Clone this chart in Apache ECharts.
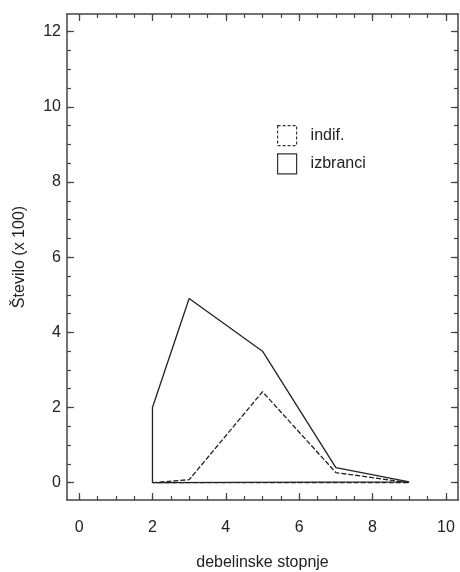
<!DOCTYPE html>
<html>
<head>
<meta charset="utf-8">
<script src="https://cdn.jsdelivr.net/npm/echarts@6/dist/echarts.min.js"></script>
<style>
html,body{margin:0;padding:0;background:#fff;}
#chart{width:460px;height:572px;}
</style>
</head>
<body>
<div id="chart"></div>
<script>
// ---- data ----
const xStops = [2, 3, 5, 7, 9];                 // debelinske stopnje
const indif = [0.0, 0.08, 2.42, 0.27, 0.0];     // Število (x 100)
const izbranci = [2.0, 4.9, 3.5, 0.4, 0.02];
const baseline = 0;
const seriesNames = ['indif.', 'izbranci'];
const xMajorTicks = [0, 2, 4, 6, 8, 10];
const xMinorTicks = [0, 0.5, 1, 1.5, 2, 2.5, 3, 3.5, 4, 4.5, 5, 5.5, 6, 6.5, 7, 7.5, 8, 8.5, 9, 9.5, 10];
const yMajorTicks = [0, 2, 4, 6, 8, 10, 12];
const yMinorTicks = [0, 0.5, 1, 1.5, 2, 2.5, 3, 3.5, 4, 4.5, 5, 5.5, 6, 6.5, 7, 7.5, 8, 8.5, 9, 9.5, 10, 10.5, 11, 11.5, 12];
const xTitle = 'debelinske stopnje';
const yTitle = 'Število (x 100)';

// closed outline polygon: baseline -> values -> baseline
function outline(vals) {
  const pts = [[xStops[0], baseline]];
  xStops.forEach((x, i) => pts.push([x, vals[i]]));
  pts.push([xStops[xStops.length - 1], baseline]);
  pts.push([xStops[0], baseline]);
  return pts;
}

const FONT = '"Liberation Sans", Arial, sans-serif';
const AX = '#444';
const XMIN = -0.33, XMAX = 10.33, YMIN = -0.46, YMAX = 12.47;

function xAx(pos, major, showLine) {
  return {
    type: 'value', position: pos, min: XMIN, max: XMAX,
    axisLine: { show: showLine, onZero: false, lineStyle: { color: AX, width: 1.5 } },
    axisTick: { show: true, inside: true, length: major ? 7 : 4, customValues: major ? xMajorTicks : xMinorTicks, lineStyle: { color: AX, width: 1.2 } },
    axisLabel: (pos === 'bottom' && major) ? { show: true, customValues: xMajorTicks, fontSize: 16, color: '#222', fontFamily: FONT, margin: 20 } : { show: false },
    splitLine: { show: false },
    name: (pos === 'bottom' && major) ? xTitle : '',
    nameLocation: 'middle', nameGap: 55,
    nameTextStyle: { fontSize: 16, color: '#222', fontFamily: FONT }
  };
}
function yAx(pos, major, showLine) {
  return {
    type: 'value', position: pos, min: YMIN, max: YMAX,
    axisLine: { show: showLine, onZero: false, lineStyle: { color: AX, width: 1.5 } },
    axisTick: { show: true, inside: true, length: major ? 7 : 4, customValues: major ? yMajorTicks : yMinorTicks, lineStyle: { color: AX, width: 1.2 } },
    axisLabel: (pos === 'left' && major) ? { show: true, customValues: yMajorTicks, fontSize: 16, color: '#222', fontFamily: FONT, margin: 6 } : { show: false },
    splitLine: { show: false },
    name: (pos === 'left' && major) ? yTitle : '',
    nameLocation: 'middle', nameGap: 39, nameRotate: 90,
    nameTextStyle: { fontSize: 16, color: '#222', fontFamily: FONT }
  };
}

const chart = echarts.init(document.getElementById('chart'), null, { renderer: 'canvas' });
chart.setOption({
  animation: false,
  backgroundColor: '#fff',
  grid: { left: 67, right: 2, top: 14, bottom: 72, containLabel: false, outerBoundsMode: 'none' },
  xAxis: [xAx('bottom', true, true), xAx('bottom', false, false), xAx('top', true, true), xAx('top', false, false)],
  yAxis: [yAx('left', true, true), yAx('left', false, false), yAx('right', true, true), yAx('right', false, false)],
  legend: {
    orient: 'vertical', left: 277, top: 125, padding: 0,
    itemWidth: 19, itemHeight: 20, itemGap: 7, icon: 'rect',
    textStyle: { fontSize: 16, color: '#222', fontFamily: FONT, padding: [0, 0, 0, 9] },
    data: [
      { name: seriesNames[0], icon: 'rect', itemStyle: { color: '#fff', borderColor: '#333', borderWidth: 1.2, borderType: [3, 2] } },
      { name: seriesNames[1], icon: 'rect', itemStyle: { color: '#fff', borderColor: '#333', borderWidth: 1.2, borderType: 'solid' } }
    ]
  },
  series: [
    {
      name: seriesNames[0], type: 'line', xAxisIndex: 0, yAxisIndex: 0,
      data: outline(indif), showSymbol: false, symbol: 'none',
      lineStyle: { color: '#222', width: 1.3, type: [5, 2] },
      itemStyle: { color: '#222' }
    },
    {
      name: seriesNames[1], type: 'line', xAxisIndex: 0, yAxisIndex: 0,
      data: outline(izbranci), showSymbol: false, symbol: 'none',
      lineStyle: { color: '#222', width: 1.3 },
      itemStyle: { color: '#222' }
    }
  ]
});
</script>
</body>
</html>
